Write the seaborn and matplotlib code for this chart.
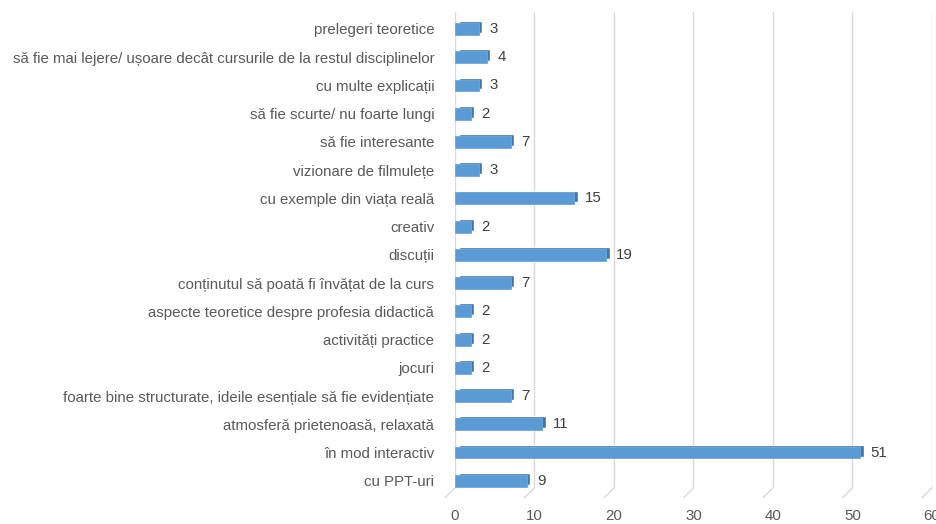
import numpy as np
import matplotlib
matplotlib.use("Agg")
import matplotlib.pyplot as plt
import seaborn as sns
import pandas as pd

# ── data ──────────────────────────────────────────────────────────────────────
categories = [
    "prelegeri teoretice",
    "să fie mai lejere/ ușoare decât cursurile de la restul disciplinelor",
    "cu multe explicații",
    "să fie scurte/ nu foarte lungi",
    "să fie interesante",
    "vizionare de filmulețe",
    "cu exemple din viața reală",
    "creativ",
    "discuții",
    "conținutul să poată fi învățat de la curs",
    "aspecte teoretice despre profesia didactică",
    "activități practice",
    "jocuri",
    "foarte bine structurate, ideile esențiale să fie evidențiate",
    "atmosferă prietenoasă, relaxată",
    "în mod interactiv",
    "cu PPT-uri",
]
counts = [3, 4, 3, 2, 7, 3, 15, 2, 19, 7, 2, 2, 2, 7, 11, 51, 9]
x_ticks = [0, 10, 20, 30, 40, 50, 60]

df = pd.DataFrame({"cat": categories, "n": counts})

# ── style ─────────────────────────────────────────────────────────────────────
sns.set_style("white")
plt.rcParams["font.family"] = ["Liberation Sans", "DejaVu Sans"]

face = "#5B9BD5"
dark = "#3F75A8"
text_col = "#595959"

fig = plt.figure(figsize=(9.37, 5.24), dpi=100)
ax = fig.add_axes([0.4856, 0.069, 0.509, 0.908])

pos = np.arange(len(categories))
bh = 0.42
# depth (3D look): darker slab offset up/right, drawn behind the face
ax.barh(pos - 0.07, df["n"], height=bh, left=0.45, color=dark, zorder=2)
sns.barplot(data=df, y="cat", x="n", orient="h", color=face, width=bh,
            saturation=1, edgecolor="#6FA8DC", linewidth=0.6, ax=ax, zorder=3)

for p, v in zip(pos, counts):
    ax.text(v + 1.3, p, str(v), va="center", ha="left", fontsize=10.8,
            color="#404040", zorder=4)

ax.set_xlim(0, 60)
ax.set_ylim(len(categories) - 0.75, -0.6)
ax.set_xticks(x_ticks)
ax.set_xticklabels([str(t) for t in x_ticks])
ax.grid(axis="x", color="#D9D9D9", linewidth=1, zorder=0)
ax.grid(axis="y", visible=False)
for s in ax.spines.values():
    s.set_visible(False)

# little diagonal "floor" strokes under each gridline
trans = ax.get_xaxis_transform()
for t in x_ticks:
    ax.plot([t, t - 1.26], [0, -0.021], transform=trans, color="#D9D9D9",
            linewidth=1, clip_on=False, zorder=0)

ax.tick_params(axis="x", length=0, pad=15, labelsize=10.8, labelcolor=text_col)
ax.tick_params(axis="y", length=0, pad=15, labelsize=10.8, labelcolor=text_col)
ax.set_xlabel("")
ax.set_ylabel("")

fig.savefig("out.png", dpi=100)
